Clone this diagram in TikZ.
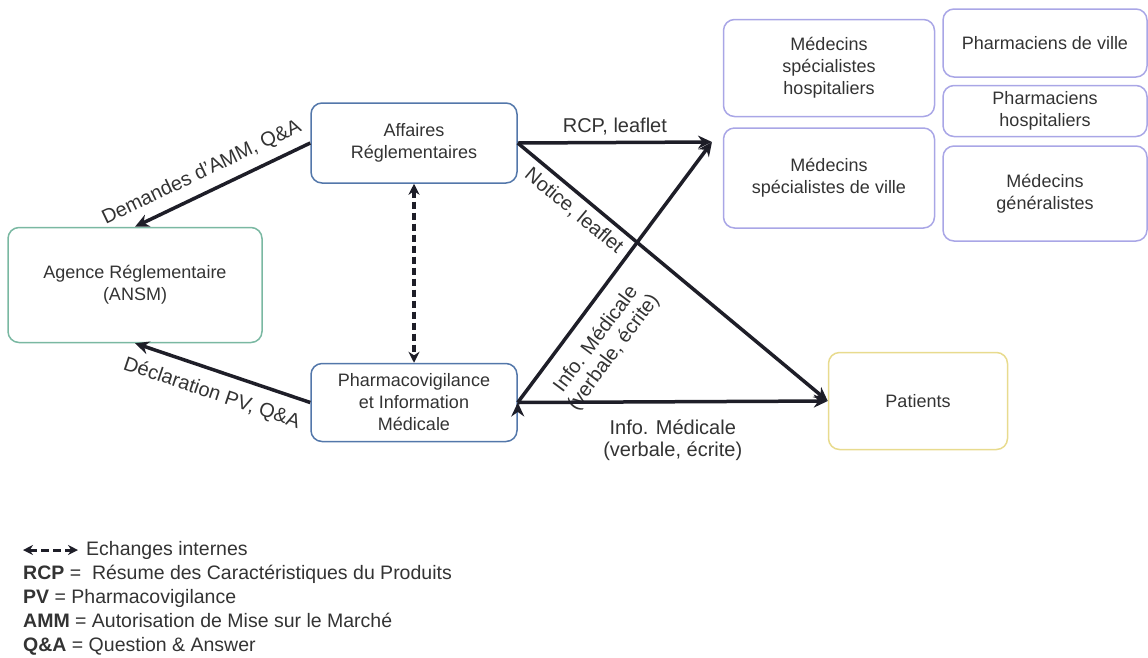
\documentclass[tikz,border=0pt]{standalone}
\usepackage{fontspec}
\setmainfont{Liberation Sans}
\usepackage{tikz}
\usetikzlibrary{arrows.meta, positioning}

\definecolor{regblue}{HTML}{5377AA}
\definecolor{agencegreen}{HTML}{7AB8A2}
\definecolor{cibleviolet}{HTML}{A9A6E6}
\definecolor{patientyellow}{HTML}{E8DB8E}
\definecolor{arrowdark}{HTML}{1E1E28}
\definecolor{textgray}{HTML}{333333}

\begin{document}
\begin{tikzpicture}[
	x=1pt, y=-1pt,
	>={Stealth[length=14pt, width=13pt]},
	box/.style={draw, rounded corners=11pt, line width=1.5pt, align=center,
		text=textgray, font=\fontsize{18}{22}\selectfont, inner sep=0pt},
	flow/.style={->, line width=3.5pt, draw=arrowdark},
	lbl/.style={font=\fontsize{20}{22}\selectfont, text=textgray, align=center, inner sep=6pt},
	legend/.style={font=\fontsize{19.5}{24}\selectfont, text=textgray, align=left, inner sep=0pt}
]

\tikzstyle{xchange} = [<->, >={Stealth[length=11pt, width=11pt]}, line width=3.3pt,
	draw=arrowdark, dash pattern=on 7pt off 4pt];

\useasboundingbox (0,0) rectangle (1148,657);

 \node [box, draw=regblue, minimum width=206pt, minimum height=80pt]      (aff_reg)   at (414,143)                {Affaires\\Réglementaires};
 \node [box, draw=regblue, minimum width=206pt, minimum height=78pt]      (pharmaco)  [below=179pt of aff_reg]    {Pharmacovigilance\\et Information\\Médicale};
 \node [box, draw=agencegreen, minimum width=254pt, minimum height=115pt] (agence)    at (135,285)                {Agence Réglementaire\\(ANSM)};
 \node [box, draw=patientyellow, minimum width=179pt, minimum height=97pt] (patients) at (918,401)                {Patients};

 \node [box, draw=cibleviolet, minimum width=211pt, minimum height=97pt]  (med_hosp)  at (829,68)                 {Médecins\\spécialistes\\hospitaliers};
 \node [box, draw=cibleviolet, minimum width=211pt, minimum height=100pt] (med_ville) [below=10pt of med_hosp]   {Médecins\\spécialistes de ville};
 \node [box, draw=cibleviolet, minimum width=204pt, minimum height=68pt]  (ph_ville)  at (1045,43)                {Pharmaciens de ville};
 \node [box, draw=cibleviolet, minimum width=204pt, minimum height=51pt]  (ph_hosp)   [below=7pt of ph_ville]     {Pharmaciens\\hospitaliers};
 \node [box, draw=cibleviolet, minimum width=204pt, minimum height=95pt]  (med_gen)   [below=8pt of ph_hosp]      {Médecins\\généralistes};

 \coordinate (cible) at (712,142);

 \path [flow] (aff_reg.west)  edge node [lbl, sloped, above=3pt, pos=0.57]      {Demandes d’AMM, Q\&A}            (agence.north)
              (pharmaco.west) edge node [lbl, sloped, below=6pt, pos=0.52]     {Déclaration PV, Q\&A}            (agence.south)
              (aff_reg.east)  edge node [lbl, above]                           {RCP, leaflet}                    (cible)
                              edge node [lbl, sloped, below, pos=0.215]        {Notice, leaflet}                 (patients.west)
              (pharmaco.east) edge node [lbl, sloped, below=8pt, pos=0.3]      {Info. Médicale\\(verbale, écrite)} (cible)
                              edge node [lbl, below=10pt]                      {Info. Médicale\\(verbale, écrite)} (patients.west);

 \draw [xchange] (aff_reg.south) -- (pharmaco.north);

% legende
 \coordinate (lgd_a) at (23,550);
 \coordinate (lgd_b) at (78,550);
 \draw [xchange, >={Stealth[length=10pt, width=10pt]}, line width=3pt, dash pattern=on 8pt off 4pt] (lgd_a) -- (lgd_b);
 \node [legend, anchor=west]       (lgd_txt) at (86,550) {Echanges internes};
 \node [legend, anchor=north west] (abbr)    at (23,565) {\textbf{RCP} = \ Résume des Caractéristiques du Produits\\
                                                          \textbf{PV} = Pharmacovigilance\\
                                                          \textbf{AMM} = Autorisation de Mise sur le Marché\\
                                                          \textbf{Q\&A} = Question \& Answer};

\end{tikzpicture}
\end{document}
